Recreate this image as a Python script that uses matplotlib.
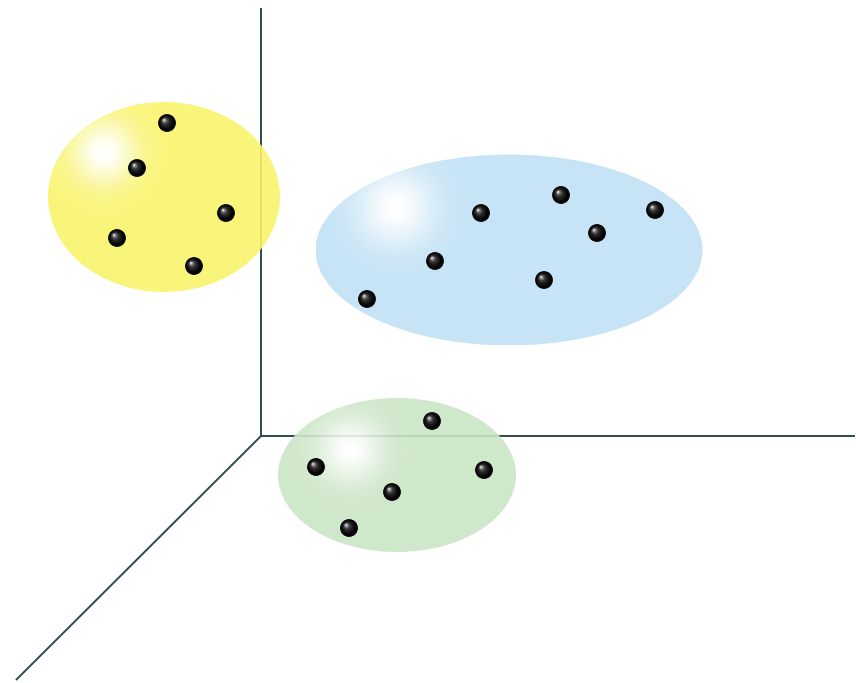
import numpy as np
import matplotlib
matplotlib.use("Agg")
import matplotlib.pyplot as plt
from matplotlib.patches import Ellipse

# clusters: centre, size, colour, highlight spot (image pixel units)
cluster_names = ["yellow", "blue", "green"]
cluster_cx = [164, 509, 397]
cluster_cy = [197, 250, 475]
cluster_w = [232, 387, 238]
cluster_h = [190, 191, 154]
cluster_col = ["#f9f46b", "#c0e1f5", "#cae5c5"]
cluster_hx = [104, 395, 350]
cluster_hy = [152, 208, 450]
glint_r = [32, 38, 32]

# points in each cluster
yellow_x = [167, 137, 226, 117, 194]
yellow_y = [123, 168, 213, 238, 266]
blue_x = [481, 561, 655, 597, 435, 544, 367]
blue_y = [213, 195, 210, 233, 261, 280, 299]
green_x = [432, 316, 484, 392, 349]
green_y = [421, 467, 470, 492, 528]

# axes of the 3d frame
origin = (261, 436)
axis_ends = [(261, 8), (855, 436), (16, 680)]

fig = plt.figure(figsize=(8.59, 6.83), dpi=100)
ax = fig.add_axes([0, 0, 1, 1])
ax.axis("off")

for ex, ey in axis_ends:
    ax.plot([origin[0], ex], [origin[1], ey], color="#2e4a4c", lw=1.4,
            solid_capstyle="butt", zorder=1)

# ellipses with a soft white glint
for i in range(3):
    cx, cy, w, h = cluster_cx[i], cluster_cy[i], cluster_w[i], cluster_h[i]
    base = np.array(matplotlib.colors.to_rgb(cluster_col[i]))
    x0, x1 = cx - w / 2, cx + w / 2
    y0, y1 = cy - h / 2, cy + h / 2
    X, Y = np.meshgrid(np.linspace(x0, x1, 300), np.linspace(y0, y1, 250))
    d = np.hypot(X - cluster_hx[i], Y - cluster_hy[i])
    t = np.exp(-(d / glint_r[i]) ** 2)
    img = np.zeros(X.shape + (4,))
    img[..., :3] = base * (1 - t[..., None]) + t[..., None]
    img[..., 3] = 0.9
    ell = Ellipse((cx, cy), w, h, facecolor="none", edgecolor="none")
    ax.add_patch(ell)
    im = ax.imshow(img, extent=(x0, x1, y1, y0), interpolation="bilinear",
                   zorder=2)
    im.set_clip_path(ell)

ax.set_xlim(0, 859)
ax.set_ylim(683, 0)

# shiny black balls
px = np.array(yellow_x + blue_x + green_x)
py = np.array(yellow_y + blue_y + green_y)
ax.scatter(px, py, s=165, color="#050505", edgecolor="none", zorder=3)
for k, (sz, c) in enumerate([(80, "#181818"), (40, "#333333"), (15, "#6e6e6e"), (4, "#c8c8c8")]):
    off = 1.0 + k * 0.6
    ax.scatter(px - off, py - off, s=sz, color=c, edgecolor="none", zorder=4 + k)

fig.savefig("out.png", dpi=100)
